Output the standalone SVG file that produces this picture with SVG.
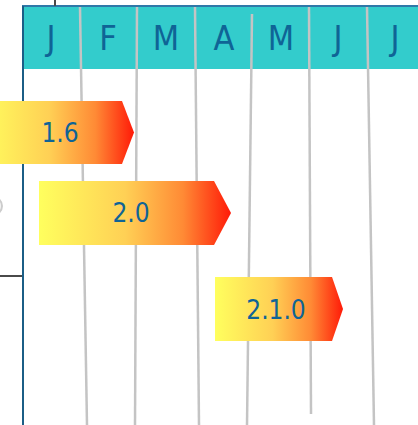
<svg xmlns="http://www.w3.org/2000/svg" width="418" height="425" viewBox="0 0 418 425">
  <defs>
    <linearGradient id="barFill" x1="0" y1="0" x2="1" y2="0">
      <stop offset="0" stop-color="#ffff5e"/>
      <stop offset="0.45" stop-color="#ffd055"/>
      <stop offset="0.75" stop-color="#ff8a35"/>
      <stop offset="1" stop-color="#ff1a08"/>
    </linearGradient>
    <style>
      .month { font-family: "DejaVu Sans Condensed", "DejaVu Sans", sans-serif; font-stretch: condensed; font-size: 34px; fill: #0f6496; text-anchor: middle; }
      .label { font-family: "DejaVu Sans Condensed", "DejaVu Sans", sans-serif; font-stretch: condensed; font-size: 26px; fill: #0f6496; text-anchor: middle; dominant-baseline: central; }
      .grid { stroke: #c4c4c4; stroke-width: 2.5; fill: none; }
      .bar { fill: url(#barFill); }
    </style>
  </defs>

  <rect width="418" height="425" fill="#ffffff"/>

  <!-- month header band -->
  <g id="header">
    <rect x="22" y="6" width="396" height="63" fill="#33cccc"/>
    <line x1="22" y1="6" x2="418" y2="6" stroke="#2f78a8" stroke-width="2"/>
    <text class="month" x="51" y="50">J</text>
    <text class="month" x="108" y="50">F</text>
    <text class="month" x="166" y="50">M</text>
    <text class="month" x="224" y="50">A</text>
    <text class="month" x="281" y="50">M</text>
    <text class="month" x="338" y="50">J</text>
    <text class="month" x="395" y="50">J</text>
  </g>

  <!-- frame lines -->
  <g id="frame">
    <line x1="55" y1="0" x2="55" y2="6" stroke="#4a4a4a" stroke-width="2"/>
    <line x1="0" y1="276" x2="22" y2="276" stroke="#4a4a4a" stroke-width="2"/>
    <line x1="23" y1="6" x2="23" y2="425" stroke="#1b5e86" stroke-width="2"/>
    <circle cx="-7" cy="206" r="9" fill="#f4f4f4" stroke="#cccccc" stroke-width="2"/>
  </g>

  <!-- month grid lines -->
  <g id="connectors">
    <line class="grid" x1="80" y1="7" x2="87" y2="425"/>
    <line class="grid" x1="137" y1="7" x2="135" y2="425"/>
    <line class="grid" x1="195" y1="7" x2="199" y2="425"/>
    <line class="grid" x1="252" y1="14" x2="247" y2="425"/>
    <line class="grid" x1="309" y1="7" x2="311" y2="414"/>
    <line class="grid" x1="367" y1="7" x2="374" y2="425"/>
  </g>

  <!-- release bars -->
  <g id="release-1-6">
    <polygon class="bar" points="-20,101 122,101 134,132.5 122,164 -20,164"/>
    <text class="label" x="60" y="133">1.6</text>
  </g>
  <g id="release-2-0">
    <polygon class="bar" points="39,181 214,181 231,213 214,245 39,245"/>
    <text class="label" x="131" y="213">2.0</text>
  </g>
  <g id="release-2-1-0">
    <polygon class="bar" points="215,277 332,277 343,309 332,341 215,341"/>
    <text class="label" x="276" y="310">2.1.0</text>
  </g>
</svg>
